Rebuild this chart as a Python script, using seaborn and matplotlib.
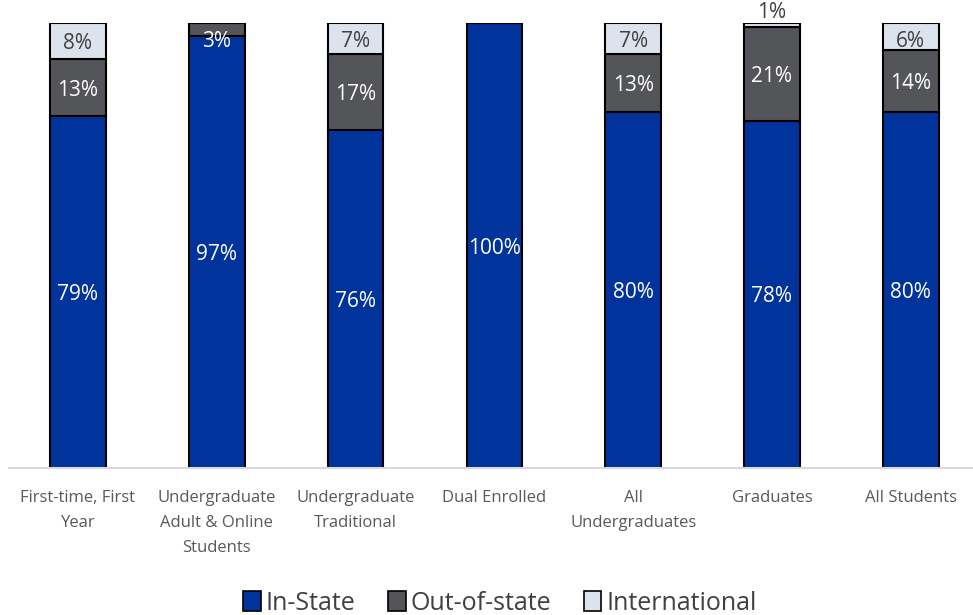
import matplotlib
matplotlib.use("Agg")
import matplotlib.pyplot as plt
import seaborn as sns
import numpy as np
from matplotlib.patches import Patch

categories = ["First-time, First\nYear", "Undergraduate\nAdult & Online\nStudents",
              "Undergraduate\nTraditional", "Dual Enrolled", "All\nUndergraduates",
              "Graduates", "All Students"]
in_state = [79, 97, 76, 100, 80, 78, 80]
out_of_state = [13, 3, 17, 0, 13, 21, 14]
international = [8, 0, 7, 0, 7, 1, 6]
series_names = ["In-State", "Out-of-state", "International"]
colors = ["#00339C", "#545559", "#DDE3EC"]
label_colors = ["#FFFFFF", "#FFFFFF", "#404040"]

sns.set_theme(style="white")
plt.rcParams["font.family"] = ["Open Sans", "DejaVu Sans"]

fig = plt.figure(figsize=(9.73, 6.15), dpi=100)
ax = fig.add_axes([8.6 / 973, 0.239, 971.6 / 973, 0.7236])

series = [in_state, out_of_state, international]
bottom = np.zeros(len(categories))
for vals, col, lcol in zip(series, colors, label_colors):
    vals = np.array(vals, dtype=float)
    sns.barplot(x=categories, y=vals, bottom=bottom, color=col, edgecolor="black",
                linewidth=1.5, width=0.4, ax=ax, saturation=1)
    for i, v in enumerate(vals):
        if v <= 0:
            continue
        if v < 2:
            ax.text(i, bottom[i] + v + 0.1, f"{int(v)}%", ha="center", va="bottom",
                    color="#404040", fontsize=15)
        else:
            yc = min(bottom[i] + v / 2, 96.5)
            ax.text(i, yc, f"{int(v)}%", ha="center", va="center_baseline",
                    color=lcol, fontsize=15)
    bottom = bottom + vals

ax.set_xlim(-0.5, 6.5)
ax.set_ylim(0, 100)
ax.set_yticks([])
ax.set_ylabel("")
for s in ["top", "right", "left"]:
    ax.spines[s].set_visible(False)
ax.spines["bottom"].set_color("#D9D9D9")
ax.spines["bottom"].set_linewidth(1.5)
ax.tick_params(axis="x", length=0, pad=16, labelsize=12, labelcolor="#595959")
for t in ax.get_xticklabels():
    t.set_linespacing(1.75)
ax.set_clip_on(False)

handles = [Patch(facecolor=c, edgecolor="black", linewidth=1.2, label=n)
           for c, n in zip(colors, series_names)]
fig.legend(handles=handles, loc="center", bbox_to_anchor=(500 / 973, 1 - 603 / 615),
           ncol=3, frameon=False, fontsize=18, handlelength=0.7, handleheight=0.9,
           handletextpad=0.2, columnspacing=1.3, labelcolor="#404040")

fig.savefig("out.png", dpi=100)
